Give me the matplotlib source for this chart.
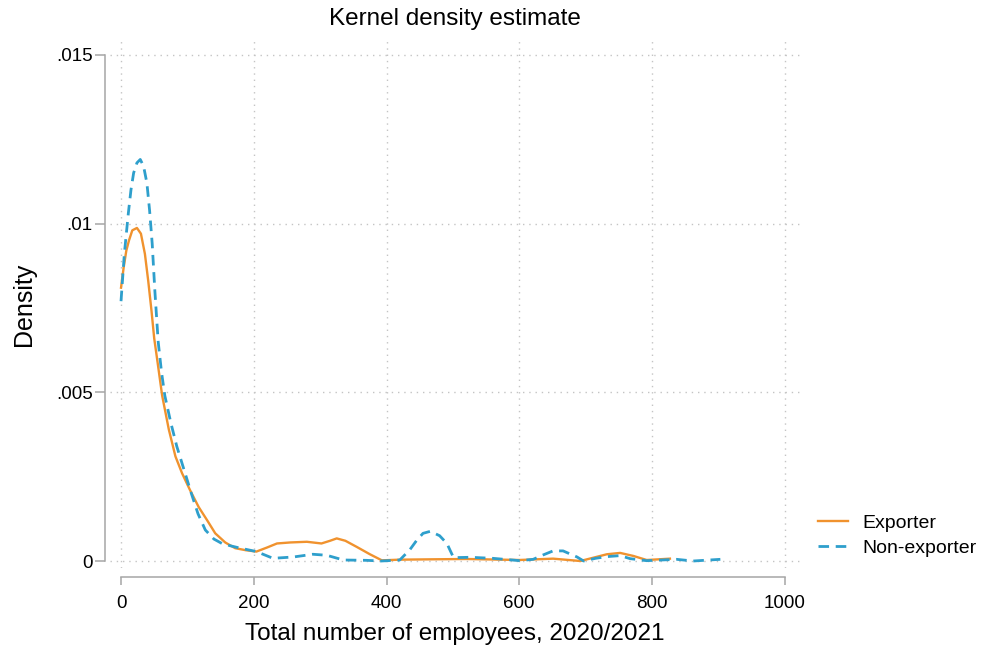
import numpy as np
import matplotlib
matplotlib.use("Agg")
import matplotlib.pyplot as plt

plt.rcParams['font.family'] = ['Liberation Sans', 'DejaVu Sans']

# values
exp_x = [0, 4, 8, 12, 17, 24, 30, 36, 41, 46, 50, 55, 62, 72, 82, 92, 104, 117, 130,
         142, 157, 172, 188, 204, 220, 235, 255, 280, 302, 315, 325, 338, 355, 375,
         393, 420, 466, 520, 600, 651, 692, 712, 732, 752, 772, 792, 810, 827]
exp_y = [0.0081, 0.0087, 0.0092, 0.0095, 0.0098, 0.00987, 0.0097, 0.0091, 0.0083,
         0.0074, 0.0066, 0.0059, 0.0049, 0.0039, 0.0031, 0.0026, 0.0021, 0.0016,
         0.0012, 0.00082, 0.00055, 0.00038, 0.00032, 0.00028, 0.0004, 0.00052,
         0.00055, 0.00057, 0.00052, 0.0006, 0.00067, 0.0006, 0.00042, 0.0002,
         0.00002, 0.00004, 0.00005, 0.00006, 0.00003, 0.00007, 0.0, 0.0001, 0.0002,
         0.00024, 0.00015, 0.00003, 0.00005, 0.00007]

non_x = [0, 5, 11, 15, 19, 24, 29, 34, 39, 43, 47, 51, 56, 61, 66, 75, 84, 95, 106,
         116, 127, 140, 152, 165, 180, 204, 229, 260, 289, 310, 335, 370, 392, 420,
         435, 445, 455, 466, 480, 491, 501, 526, 560, 601, 621, 636, 651, 666, 687,
         697, 715, 732, 752, 767, 792, 837, 862, 903]
non_y = [0.0077, 0.0091, 0.0103, 0.0110, 0.0115, 0.0118, 0.0119, 0.0117, 0.0112,
         0.0104, 0.0094, 0.0080, 0.0065, 0.0056, 0.0049, 0.0041, 0.0034, 0.0027,
         0.0020, 0.0014, 0.00092, 0.00065, 0.00052, 0.00045, 0.00038, 0.00028,
         0.00008, 0.00012, 0.0002, 0.00017, 0.00003, 0.00002, 0.0, 0.00003, 0.00033,
         0.0006, 0.00082, 0.00088, 0.00075, 0.00052, 0.0001, 0.00011, 0.00008,
         0.00001, 0.00005, 0.00018, 0.0003, 0.0003, 0.00012, 0.0, 0.00008, 0.00013,
         0.00016, 0.00007, 0.00001, 0.00005, 0.0, 0.00005]

xticks = [0, 200, 400, 600, 800, 1000]
yticks = [0, 0.005, 0.01, 0.015]
ytick_labels = ['0', '.005', '.01', '.015']

orange = '#F0922E'
blue = '#2E9FCC'
gray = '#A6A6A6'

fig = plt.figure(figsize=(9.82, 6.5), dpi=100)
ax = fig.add_axes([110/982, 1 - 568/650, 690/982, 528/650])

ax.plot(exp_x, exp_y, color=orange, lw=1.7, label='Exporter')
ax.plot(non_x, non_y, color=blue, lw=2.0, dashes=(3.8, 2.4), label='Non-exporter')

ax.set_xlim(-16.6, 1023)
ax.set_ylim(-0.000207, 0.01544)
ax.set_xticks(xticks)
ax.set_yticks(yticks)
ax.set_yticklabels(ytick_labels)

ax.grid(True, linestyle=(0, (1, 3.5)), color='#C4C4C4', lw=1.0)
ax.set_axisbelow(True)

for s in ['top', 'right']:
    ax.spines[s].set_visible(False)
ax.spines['left'].set_position(('outward', 3.6))
ax.spines['bottom'].set_position(('outward', 6.5))
ax.spines['left'].set_bounds(0, 0.015)
ax.spines['bottom'].set_bounds(0, 1000)
for s in ['left', 'bottom']:
    ax.spines[s].set_color(gray)
    ax.spines[s].set_linewidth(1.1)

ax.tick_params(axis='y', length=7, width=1.1, color=gray, pad=2, labelsize=13.5)
ax.tick_params(axis='x', length=6, width=1.1, color=gray, pad=7, labelsize=13.5)

ax.set_title('Kernel density estimate', fontsize=17.5, pad=11)
ax.set_xlabel('Total number of employees, 2020/2021', fontsize=17.5, labelpad=8)
ax.set_ylabel('Density', fontsize=18, labelpad=14)

fig.legend(loc='center left', bbox_to_anchor=(818/982, 1 - 535.5/650),
           frameon=False, fontsize=14, handlelength=1.55, handletextpad=0.75,
           labelspacing=0.4, borderpad=0, borderaxespad=0)

fig.savefig('out.png', dpi=100)
